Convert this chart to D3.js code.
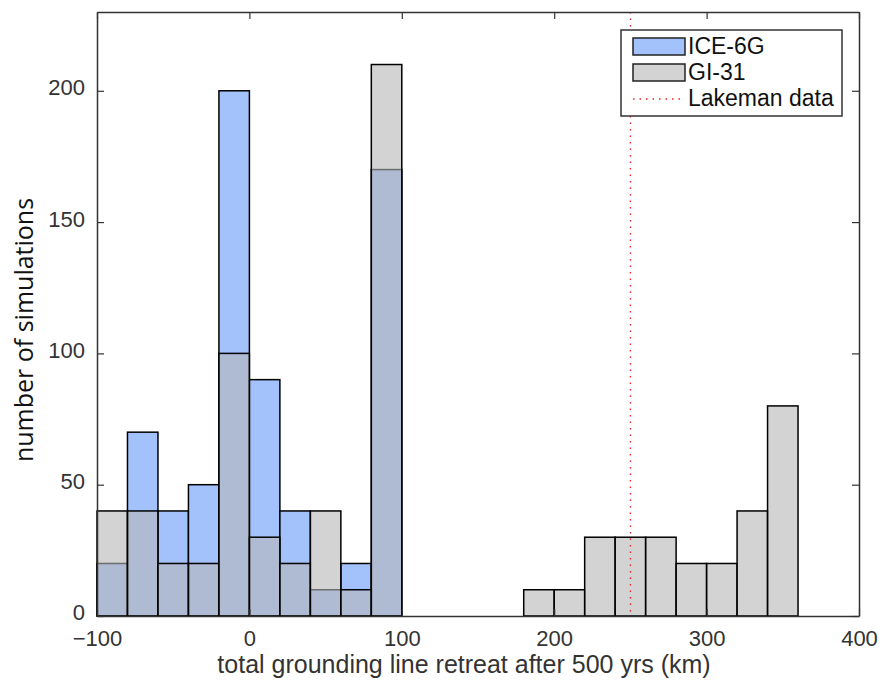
<!DOCTYPE html>
<html>
<head>
<meta charset="utf-8">
<script src="https://cdn.jsdelivr.net/npm/d3@7"></script>
<style>
  body { margin: 0; background: #fff; }
  text { font-family: "Liberation Sans", Arial, sans-serif; fill: #333; }
</style>
</head>
<body>
<div id="chart"></div>
<script>
// bin left edges (km), width 20
var binEdges = [-100, -80, -60, -40, -20, 0, 20, 40, 60, 80, 100, 120, 140, 160, 180, 200, 220, 240, 260, 280, 300, 320, 340];
var ice6g = [20, 70, 40, 50, 200, 90, 40, 10, 20, 170, 0, 0, 0, 0, 0, 0, 0, 0, 0, 0, 0, 0, 0];
var gi31 = [40, 40, 20, 20, 100, 30, 20, 40, 10, 210, 0, 0, 0, 0, 10, 10, 30, 30, 30, 20, 20, 40, 80];
var binWidth = 20;
var lakeman = 250;
var xTicks = [-100, 0, 100, 200, 300, 400];
var yTicks = [0, 50, 100, 150, 200];

var width = 882, height = 683;
var margin = {top: 12, right: 23, bottom: 67, left: 97};

var svg = d3.select('#chart').append('svg')
  .attr('width', width)
  .attr('height', height);

var x = d3.scaleLinear().domain([-100, 400]).range([margin.left, width - margin.right]);
var y = d3.scaleLinear().domain([0, 230]).range([height - margin.bottom, margin.top]);

function bars(vals, cls, fill, opacity) {
  var data = binEdges.map(function (e, i) { return {x0: e, v: vals[i]}; })
    .filter(function (d) { return d.v > 0; });
  svg.append('g').attr('class', cls)
    .selectAll('rect').data(data).enter().append('rect')
    .attr('x', function (d) { return x(d.x0); })
    .attr('width', function (d) { return x(d.x0 + binWidth) - x(d.x0); })
    .attr('y', function (d) { return y(d.v); })
    .attr('height', function (d) { return y(0) - y(d.v); })
    .attr('fill', fill)
    .attr('fill-opacity', opacity)
    .attr('stroke', '#000')
    .attr('stroke-width', 1.5);
}

bars(ice6g, 'ice', '#a3c2fc', 1);
bars(gi31, 'gi', '#b5b5b5', 0.6);

// Lakeman line
svg.append('line')
  .attr('x1', x(lakeman)).attr('x2', x(lakeman))
  .attr('y1', y(230)).attr('y2', y(0))
  .attr('stroke', '#ff2020')
  .attr('stroke-width', 1.3)
  .attr('stroke-dasharray', '1.5,5');

// axes (matlab style inward ticks, box)
var axisColor = '#333';
var xAxis = d3.axisBottom(x).tickValues(xTicks).tickSizeInner(-7).tickSizeOuter(0).tickPadding(14);
var yAxis = d3.axisLeft(y).tickValues(yTicks).tickSizeInner(-7).tickSizeOuter(0).tickPadding(12);

var gx = svg.append('g').attr('transform', 'translate(0,' + y(0) + ')').call(xAxis);
var gy = svg.append('g').attr('transform', 'translate(' + x(-100) + ',0)').call(yAxis);
svg.append('g').attr('transform', 'translate(0,' + y(230) + ')')
  .call(d3.axisTop(x).tickValues(xTicks).tickSizeInner(-7).tickSizeOuter(0).tickFormat(''));
svg.append('g').attr('transform', 'translate(' + x(400) + ',0)')
  .call(d3.axisRight(y).tickValues(yTicks).tickSizeInner(-7).tickSizeOuter(0).tickFormat(''));

svg.selectAll('.domain').attr('stroke', axisColor).attr('stroke-width', 1.5);
svg.selectAll('.tick line').attr('stroke', axisColor).attr('stroke-width', 1.2);
svg.selectAll('.tick text').attr('font-size', 22).style('fill', '#333')
  .style('font-family', '"Liberation Sans", Arial, sans-serif');
gy.selectAll('.tick text').attr('dy', '0.18em');

svg.append('text')
  .attr('x', 464)
  .attr('y', 673)
  .attr('text-anchor', 'middle')
  .attr('font-size', 25)
  .text('total grounding line retreat after 500 yrs (km)');

svg.append('text')
  .attr('transform', 'translate(33,330) rotate(-90)')
  .attr('text-anchor', 'middle')
  .attr('font-size', 25)
  .style('fill', '#111')
  .style('font-family', '"Open Sans", "DejaVu Sans", sans-serif')
  .text('number of simulations');

// legend
var leg = svg.append('g').attr('transform', 'translate(621,30)');
leg.append('rect').attr('width', 221).attr('height', 86)
  .attr('fill', '#fff').attr('stroke', '#333').attr('stroke-width', 1.5);
var items = [
  {label: 'ICE-6G', fill: '#a3c2fc', type: 'rect'},
  {label: 'GI-31', fill: '#d3d3d3', type: 'rect'},
  {label: 'Lakeman data', type: 'line'}
];
items.forEach(function (it, i) {
  var cy = 16 + i * 26;
  if (it.type === 'rect') {
    leg.append('rect').attr('x', 12).attr('y', cy - 8).attr('width', 52).attr('height', 17)
      .attr('fill', it.fill).attr('stroke', '#222').attr('stroke-width', 1.5);
  } else {
    leg.append('line').attr('x1', 12).attr('x2', 64).attr('y1', cy + 1).attr('y2', cy + 1)
      .attr('stroke', '#ff2020').attr('stroke-width', 1.3).attr('stroke-dasharray', '1.5,5');
  }
  leg.append('text').attr('x', 67).attr('y', cy + 8).attr('font-size', 23)
    .style('fill', '#111').text(it.label);
});
</script>
</body>
</html>
